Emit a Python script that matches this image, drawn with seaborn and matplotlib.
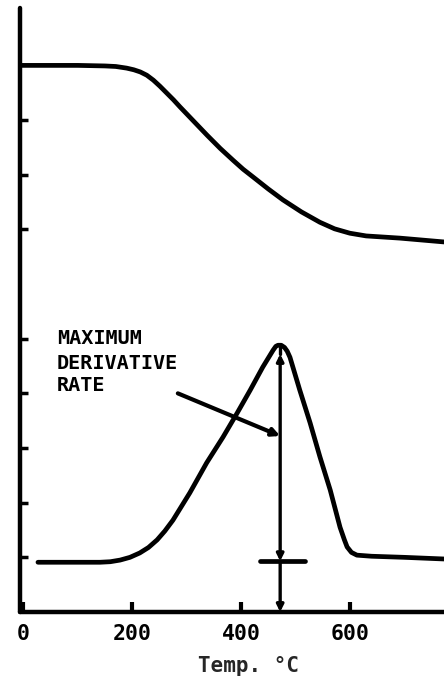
import matplotlib
matplotlib.use("Agg")
import matplotlib.pyplot as plt
import numpy as np
import pandas as pd
import seaborn as sns

# Weight-loss (TGA) trace
tga_temp = [-6, 50, 100, 150, 170, 190, 203, 215, 227, 239, 251, 264, 276, 288, 313, 338, 362,
            386, 404, 422, 450, 477, 511, 545, 572, 600, 630, 692, 773]
tga_value = [10.0, 10.0, 10.0, 9.99, 9.98, 9.95, 9.92, 9.88, 9.82, 9.73, 9.62, 9.49, 9.37, 9.24,
             8.98, 8.72, 8.48, 8.26, 8.10, 7.96, 7.74, 7.54, 7.32, 7.13, 7.01, 6.93, 6.88, 6.84, 6.77]

# Derivative (DTG) trace
dtg_temp = [27, 141, 160, 178, 196, 214, 230, 246, 260, 275, 306, 337, 367, 393, 417, 440, 459,
            464, 468, 474, 480, 485, 490, 508, 527, 545, 564, 582, 590, 595, 603, 613, 640, 700, 773]
dtg_value = [0.91, 0.91, 0.92, 0.95, 1.00, 1.08, 1.18, 1.32, 1.48, 1.68, 2.18, 2.73, 3.20, 3.64,
             4.06, 4.48, 4.79, 4.86, 4.88, 4.88, 4.84, 4.77, 4.66, 4.06, 3.46, 2.84, 2.23, 1.55,
             1.32, 1.19, 1.09, 1.04, 1.02, 1.00, 0.97]

# Maximum derivative marker
peak_temp = 472
peak_value = 4.72
baseline_value = 0.93
crossbar = [435, 517]

x_ticks = [0, 200, 400, 600]
y_ticks = [1, 2, 3, 4, 5, 7, 8, 9]
note_lines = ["MAXIMUM", "DERIVATIVE", "RATE"]
note_y = [5.01, 4.55, 4.15]
note_x = 62
pointer_start = (284, 4.0)
pointer_end = (472, 3.22)

sns.set_style("white")
mono = ["DejaVu Sans Mono"]
plt.rcParams["font.family"] = mono
plt.rcParams["xtick.bottom"] = True
plt.rcParams["ytick.left"] = True

fig = plt.figure(figsize=(4.44, 6.77), dpi=100)
ax = fig.add_axes([20 / 444, 65 / 677, 424 / 444, 604 / 677])

tga = pd.DataFrame({"temp": tga_temp, "value": tga_value})
dtg = pd.DataFrame({"temp": dtg_temp, "value": dtg_value})
for df in (tga, dtg):
    sns.lineplot(data=df, x="temp", y="value", ax=ax, color="black", lw=3.4,
                 sort=False, estimator=None, solid_capstyle="round",
                 solid_joinstyle="round")

ax.set_xlim(-6, 773)
ax.set_ylim(0, 11.05)

# Vertical measure from peak to baseline and from baseline to axis
ax.annotate("", xy=(peak_temp, baseline_value), xytext=(peak_temp, peak_value),
            arrowprops=dict(arrowstyle="<|-|>", lw=2.4, color="black",
                            mutation_scale=10, shrinkA=0, shrinkB=0))
ax.annotate("", xy=(peak_temp, 0.0), xytext=(peak_temp, baseline_value),
            arrowprops=dict(arrowstyle="-|>", lw=2.4, color="black",
                            mutation_scale=10, shrinkA=0, shrinkB=0))
ax.plot([peak_temp, peak_temp], [peak_value, 4.85], color="black", lw=2.4)
ax.plot(crossbar, [baseline_value, baseline_value], color="black", lw=3.4,
        solid_capstyle="round")

# Pointer from the note to the measure line
ax.annotate("", xy=pointer_end, xytext=pointer_start,
            arrowprops=dict(arrowstyle="-|>", lw=3.0, color="black",
                            mutation_scale=11, shrinkA=0, shrinkB=0,
                            capstyle="round"))
for line, yy in zip(note_lines, note_y):
    ax.text(note_x, yy, line, ha="left", va="center", fontsize=14.5,
            fontweight="bold", family=mono, color="black")

# Axes styling
for side in ["top", "right"]:
    ax.spines[side].set_visible(False)
for side in ["left", "bottom"]:
    ax.spines[side].set_linewidth(3.2)
    ax.spines[side].set_color("black")
    ax.spines[side].set_capstyle("round")

ax.set_xticks(x_ticks)
ax.set_xticklabels([str(t) for t in x_ticks])
ax.set_yticks(y_ticks)
ax.set_yticklabels([])
ax.tick_params(axis="x", which="major", bottom=True, top=False, direction="in",
               length=7, width=3.0, pad=9, labelsize=15.5, colors="black")
ax.tick_params(axis="y", which="major", left=True, right=False, direction="in",
               length=6, width=2.5, colors="black")
for lab in ax.get_xticklabels():
    lab.set_fontweight("bold")
    lab.set_family(mono)

ax.set_xlabel("Temp. °C", fontsize=15, fontweight="bold", family=mono, va="center")
ax.set_ylabel("")
ax.xaxis.set_label_coords(0.538, -0.089)

fig.savefig("out.png", dpi=100)
